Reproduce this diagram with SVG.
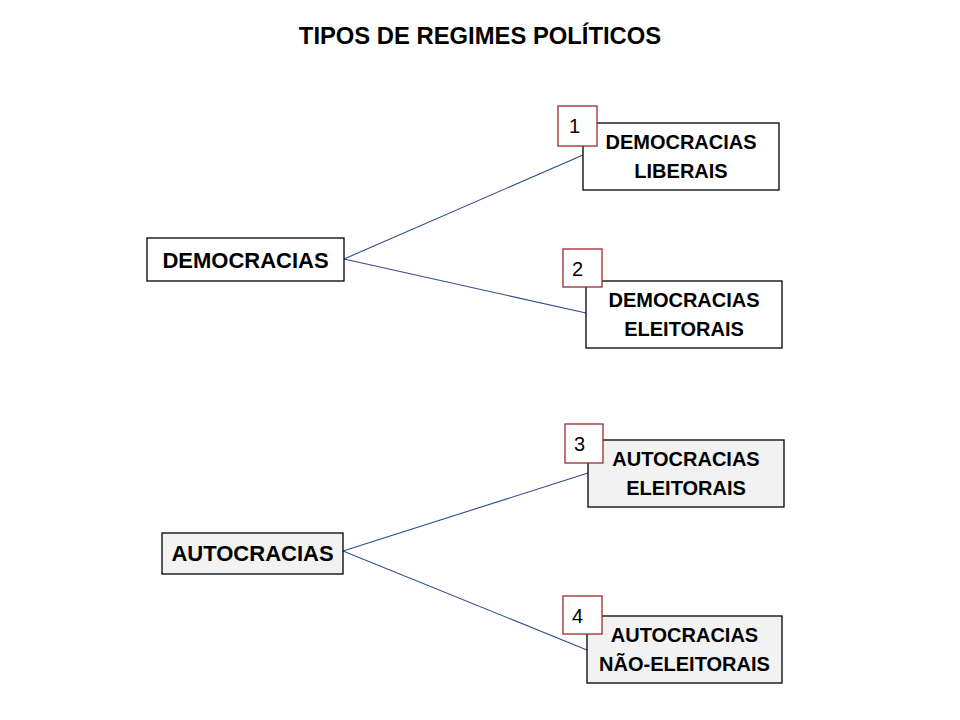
<svg xmlns="http://www.w3.org/2000/svg" width="960" height="720" viewBox="0 0 960 720">
<style>
.bg{fill:#ffffff}
.box{stroke:#000000;stroke-width:1.3}
.w{fill:#ffffff}
.g{fill:#f2f2f2}
.badge{fill:#ffffff;stroke:#9e2a2f;stroke-width:1.3}
.t{font-family:"Liberation Sans",Arial,sans-serif;font-weight:bold;fill:#000000;text-anchor:middle}
.n{font-family:"Liberation Sans",Arial,sans-serif;font-size:20px;fill:#000000}
.lbl{font-size:20px}
.main{font-size:22px}
.conn{stroke:#2f4b8a;stroke-width:1.1;fill:none}
</style>
<rect class="bg" x="0" y="0" width="960" height="720"/>
<text class="t" x="480" y="44" font-size="23.8">TIPOS DE REGIMES POLÍTICOS</text>
<g id="connectors">
<line class="conn" x1="344" y1="259" x2="583" y2="155"/>
<line class="conn" x1="344" y1="259" x2="586" y2="313"/>
<line class="conn" x1="343" y1="551" x2="588" y2="473"/>
<line class="conn" x1="343" y1="551" x2="587" y2="650"/>
</g>
<g id="democracias">
<rect class="box w" x="147" y="238" width="197" height="43"/>
<text class="t main" x="245.5" y="268">DEMOCRACIAS</text>
</g>
<g id="autocracias">
<rect class="box g" x="162" y="533" width="181" height="41"/>
<text class="t main" x="252.5" y="561">AUTOCRACIAS</text>
</g>
<g id="democracias-liberais">
<rect class="box w" x="583" y="123" width="196" height="67"/>
<text class="t lbl" x="681" y="149">DEMOCRACIAS</text>
<text class="t lbl" x="681" y="178">LIBERAIS</text>
<rect class="badge" x="558" y="106" width="39" height="40"/>
<text class="n" x="569" y="133">1</text>
</g>
<g id="democracias-eleitorais">
<rect class="box w" x="586" y="281" width="196" height="67"/>
<text class="t lbl" x="684" y="307">DEMOCRACIAS</text>
<text class="t lbl" x="684" y="336">ELEITORAIS</text>
<rect class="badge" x="563" y="249" width="39" height="38"/>
<text class="n" x="572" y="276">2</text>
</g>
<g id="autocracias-eleitorais">
<rect class="box g" x="588" y="440" width="196" height="67"/>
<text class="t lbl" x="686" y="466">AUTOCRACIAS</text>
<text class="t lbl" x="686" y="495">ELEITORAIS</text>
<rect class="badge" x="565" y="424" width="38" height="39"/>
<text class="n" x="574" y="451">3</text>
</g>
<g id="autocracias-nao-eleitorais">
<rect class="box g" x="587" y="616" width="195" height="67"/>
<text class="t lbl" x="684.5" y="642">AUTOCRACIAS</text>
<text class="t lbl" x="684.5" y="671">NÃO-ELEITORAIS</text>
<rect class="badge" x="563" y="596" width="39" height="38"/>
<text class="n" x="572" y="623">4</text>
</g>
</svg>
